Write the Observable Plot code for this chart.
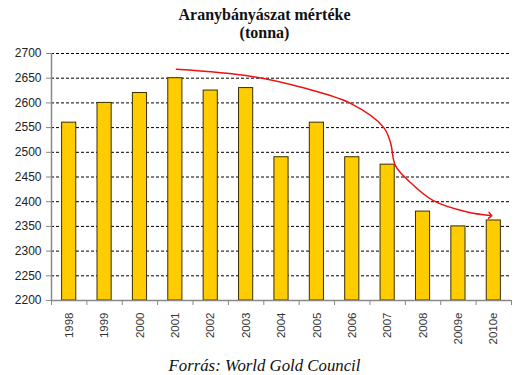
<!DOCTYPE html>
<html>
<head>
<meta charset="utf-8">
<script src="https://cdn.jsdelivr.net/npm/d3@7"></script>
<script src="https://cdn.jsdelivr.net/npm/@observablehq/plot@0.6"></script>
<style>
  html, body { margin: 0; padding: 0; background: #fff; }
  #wrap { width: 529px; }
  .title { font-family: "Liberation Serif", "Times New Roman", serif; font-weight: bold; font-size: 16px; text-align: center; line-height: 18px; color: #111; padding-top: 6px; height: 42px; box-sizing: border-box; }
  .caption { font-family: "Liberation Serif", "Times New Roman", serif; font-style: italic; font-size: 16.8px; text-align: center; color: #111; line-height: 20px; padding-top: 7px; }
  svg { display: block; }
  #chart svg text { font-family: "Liberation Sans", Arial, sans-serif !important; }
</style>
</head>
<body>
<div id="wrap">
  <div class="title">Aranybányászat mértéke<br>(tonna)</div>
  <div id="chart"></div>
  <div class="caption">Forrás: World Gold Council</div>
</div>
<script>
const years = ["1998","1999","2000","2001","2002","2003","2004","2005","2006","2007","2008","2009e","2010e"];
const tonnes = [2560, 2600, 2620, 2650, 2625, 2630, 2490, 2560, 2490, 2475, 2380, 2350, 2362];
const yTicks = [2200, 2250, 2300, 2350, 2400, 2450, 2500, 2550, 2600, 2650, 2700];
// hand-drawn red trend arrow, in (bar index, tonnes) data coordinates
const trendPos = [3.03, 5.12, 6.53, 7.95, 8.88, 9.08, 9.22, 9.64, 10.29, 11.25, 11.9];
const trendVal = [2668, 2654, 2632, 2599, 2551, 2520, 2473, 2439, 2402, 2379, 2372];

const idx = years.map((_, i) => i);
const bounds = d3.range(-0.5, years.length, 1);
const trend = trendPos.map((p, i) => ({p, v: trendVal[i]}));

const chart = Plot.plot({
  width: 529,
  height: 307,
  marginTop: 11,
  marginLeft: 51,
  marginRight: 18,
  marginBottom: 49,
  style: {fontFamily: "Liberation Sans, Arial, sans-serif", color: "#222", background: "#fff"},
  x: {type: "linear", domain: [-0.5, years.length - 0.5]},
  y: {domain: [2200, 2700]},
  marks: [
    Plot.ruleY(yTicks.slice(1), {stroke: "#000", strokeWidth: 1, strokeDasharray: "3,2"}),
    Plot.rectY(idx, {x1: i => i - 0.2, x2: i => i + 0.2, y1: 2200, y2: i => tonnes[i], fill: "#FFCC00", stroke: "#3a3000", strokeWidth: 1}),
    Plot.ruleX([-0.5], {stroke: "#888", strokeWidth: 1.5}),
    Plot.ruleY([2200], {stroke: "#888", strokeWidth: 1.5}),
    Plot.axisY({ticks: yTicks, tickFormat: d => String(d), tickSize: 5, tickPadding: 5, fontSize: 12, label: null, stroke: "#888", fill: "#222"}),
    Plot.axisX({ticks: bounds, tickFormat: () => "", tickSize: 5, stroke: "#888", label: null}),
    Plot.axisX({ticks: idx, tickFormat: i => years[i], tickSize: 0, tickPadding: 12, tickRotate: -90, fontSize: 11.5, label: null, fill: "#333"}),
    Plot.line(trend, {x: "p", y: "v", stroke: "#ee1111", strokeWidth: 1.5, curve: "catmull-rom", markerEnd: "arrow"})
  ]
});
document.getElementById("chart").appendChild(chart);
</script>
</body>
</html>
